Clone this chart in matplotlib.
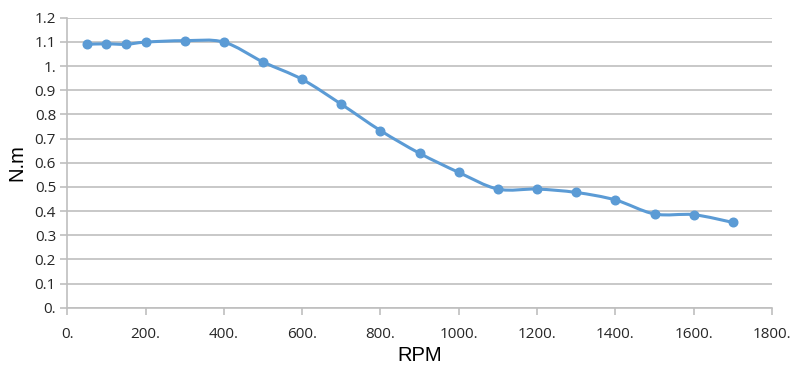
import numpy as np
import matplotlib
matplotlib.use("Agg")
import matplotlib.pyplot as plt
from matplotlib.path import Path
from matplotlib.patches import PathPatch

# data
rpm = [50, 100, 150, 200, 300, 400, 500, 600, 700, 800, 900,
       1000, 1100, 1200, 1300, 1400, 1500, 1600, 1700]
torque = [1.090, 1.092, 1.090, 1.099, 1.105, 1.099, 1.017, 0.945, 0.842, 0.733, 0.639,
          0.560, 0.491, 0.491, 0.477, 0.446, 0.388, 0.385, 0.353]

x_ticks = [0, 200, 400, 600, 800, 1000, 1200, 1400, 1600, 1800]
x_labels = ["0.", "200.", "400.", "600.", "800.", "1000.", "1200.", "1400.", "1600.", "1800."]
y_ticks = [0, 0.1, 0.2, 0.3, 0.4, 0.5, 0.6, 0.7, 0.8, 0.9, 1.0, 1.1, 1.2]
y_labels = ["0.", "0.1", "0.2", "0.3", "0.4", "0.5", "0.6", "0.7", "0.8", "0.9", "1.", "1.1", "1.2"]

LINE = "#5B9BD5"
GRID = "#BFBFBF"

fig = plt.figure(figsize=(8, 3.69), dpi=100)
ax = fig.add_axes([0.084, 0.166, 0.881, 0.786])

# smoothed line (Excel style: bezier through the points)
pts = np.column_stack([rpm, torque])
verts = [tuple(pts[0])]
codes = [Path.MOVETO]
n = len(pts)
for i in range(n - 1):
    p0 = pts[i - 1] if i > 0 else pts[i]
    p1, p2 = pts[i], pts[i + 1]
    p3 = pts[i + 2] if i + 2 < n else pts[i + 1]
    c1 = p1 + (p2 - p0) / 6.0
    c2 = p2 - (p3 - p1) / 6.0
    verts += [tuple(c1), tuple(c2), tuple(p2)]
    codes += [Path.CURVE4] * 3
ax.add_patch(PathPatch(Path(verts, codes), fill=False, edgecolor=LINE, lw=2.2, zorder=3))
ax.plot(rpm, torque, "o", color=LINE, ms=6.2, zorder=4)

ax.set_xlim(0, 1800)
ax.set_ylim(0, 1.2)
ax.set_xticks(x_ticks)
ax.set_xticklabels(x_labels, fontsize=11, family="Open Sans", color="#262626")
ax.set_yticks(y_ticks)
ax.set_yticklabels(y_labels, fontsize=11, family="Open Sans", color="#262626")
ax.yaxis.grid(True, color=GRID, lw=1.2)
ax.set_axisbelow(True)
for s in ["top", "right"]:
    ax.spines[s].set_visible(False)
for s in ["left", "bottom"]:
    ax.spines[s].set_color(GRID)
    ax.spines[s].set_linewidth(1.2)
ax.tick_params(axis="both", color=GRID, length=5, width=1.2)
ax.tick_params(axis="x", pad=9)
ax.tick_params(axis="y", pad=3)

ax.set_xlabel("RPM", fontsize=14.5, family="Liberation Sans", labelpad=3)
ax.set_ylabel("N.m", fontsize=14.5, family="Liberation Sans", labelpad=6)

fig.savefig("out.png", dpi=100)
